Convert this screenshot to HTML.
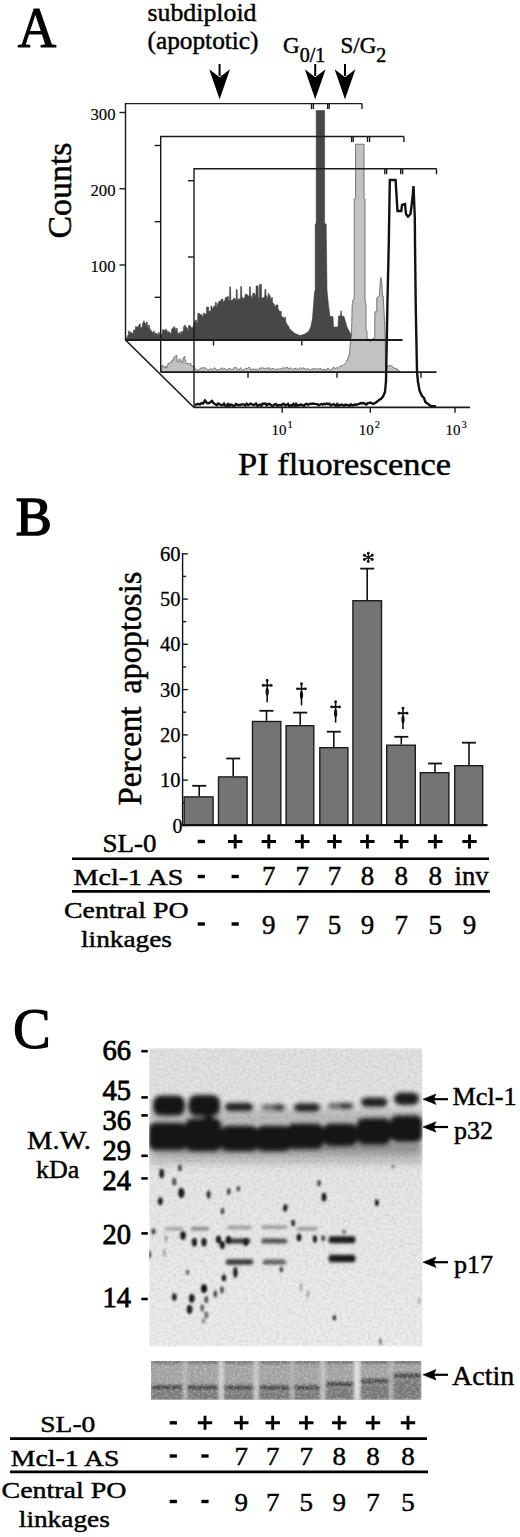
<!DOCTYPE html>
<html><head><meta charset="utf-8"><style>
html,body{margin:0;padding:0;background:#fff;}
svg{display:block;}
text{font-family:"Liberation Serif",serif;fill:#000;stroke:#000;}
</style></head><body>
<svg width="520" height="1537" viewBox="0 0 520 1537" stroke-width="0.45">
<rect width="520" height="1537" fill="#fff"/>
<text x="17.8" y="46.5" font-size="57" font-weight="normal" text-anchor="start" stroke-width="1.1" textLength="38.5" lengthAdjust="spacingAndGlyphs" >A</text>
<text x="147.5" y="21" font-size="25.5" font-weight="normal" text-anchor="start" stroke-width="0.45" textLength="109" lengthAdjust="spacingAndGlyphs" >subdiploid</text>
<text x="147.5" y="49" font-size="25.5" font-weight="normal" text-anchor="start" stroke-width="0.45" textLength="111" lengthAdjust="spacingAndGlyphs" >(apoptotic)</text>
<text x="283" y="53" font-size="23">G<tspan font-size="20" dy="9.3">0/1</tspan></text>
<text x="340.5" y="53" font-size="23">S/G<tspan font-size="20" dy="9.3">2</tspan></text>
<line x1="219.6" y1="64" x2="219.6" y2="76" stroke="#000" stroke-width="2"/>
<path d="M219.6 99.2 L209.2 69.2 L219.6 77.3 L230.0 69.2 Z" fill="#000"/>
<line x1="315.2" y1="64" x2="315.2" y2="76" stroke="#000" stroke-width="2"/>
<path d="M315.2 99.2 L304.8 69.2 L315.2 77.3 L325.59999999999997 69.2 Z" fill="#000"/>
<line x1="345" y1="64" x2="345" y2="76" stroke="#000" stroke-width="2"/>
<path d="M345 99.2 L334.6 69.2 L345 77.3 L355.4 69.2 Z" fill="#000"/>
<polygon fill="#474747" stroke="#333" stroke-width="0.5" points="126.0,340.0 126.5,337.4 127.3,337.4 127.5,335.6 128.3,335.6 128.5,330.9 129.3,330.9 129.5,333.2 130.3,333.2 130.5,332.0 131.3,332.0 131.5,332.9 132.3,332.9 132.5,333.6 133.3,333.6 133.5,329.9 134.3,329.9 134.5,330.1 135.3,330.1 135.5,326.5 136.3,326.5 136.5,327.2 137.3,327.2 137.5,326.7 138.3,326.7 138.5,325.4 139.3,325.4 139.5,323.9 140.3,323.9 140.5,328.2 141.3,328.2 141.5,327.2 142.3,327.2 142.5,323.3 143.3,323.3 143.5,320.9 144.3,320.9 144.5,323.1 145.3,323.1 145.5,324.4 146.3,324.4 146.5,321.9 147.3,321.9 147.5,327.5 148.3,327.5 148.5,325.0 149.3,325.0 149.5,328.9 150.3,328.9 150.5,330.4 151.3,330.4 151.5,331.8 152.3,331.8 152.5,332.7 153.3,332.7 153.5,331.1 154.3,331.1 154.5,334.3 155.3,334.3 155.5,332.9 156.3,332.9 156.5,333.7 157.3,333.7 157.5,334.9 158.3,334.9 158.5,332.5 159.3,332.5 159.5,334.6 160.3,334.6 160.5,335.3 161.3,335.3 161.5,334.0 162.3,334.0 162.5,329.7 163.3,329.7 163.5,330.1 164.3,330.1 164.5,330.6 165.3,330.6 165.5,329.3 166.3,329.3 166.5,330.7 167.3,330.7 167.5,333.0 168.3,333.0 168.5,331.6 169.3,331.6 169.5,332.8 170.3,332.8 170.5,334.0 171.3,334.0 171.5,329.3 172.3,329.3 172.5,328.2 173.3,328.2 173.5,326.7 174.3,326.7 174.5,327.7 175.3,327.7 175.5,330.6 176.3,330.6 176.5,328.2 177.3,328.2 177.5,333.7 178.3,333.7 178.5,333.3 179.3,333.3 179.5,332.0 180.3,332.0 180.5,334.6 181.3,334.6 181.5,331.6 182.3,331.6 182.5,331.6 183.3,331.6 183.5,326.8 184.3,326.8 184.5,325.2 185.3,325.2 185.5,326.9 186.3,326.9 186.5,328.0 187.3,328.0 187.5,330.6 188.3,330.6 188.5,325.7 189.3,325.7 189.5,325.5 190.3,325.5 190.5,327.1 191.3,327.1 191.5,328.6 192.3,328.6 192.5,327.1 193.3,327.1 193.5,324.3 194.3,324.3 194.5,321.8 195.4,321.8 195.6,319.9 196.5,319.9 196.7,322.7 197.6,322.7 197.8,313.4 198.7,313.4 198.9,313.4 199.8,313.4 200.0,314.8 200.9,314.8 201.1,314.7 202.0,314.7 202.2,316.8 203.1,316.8 203.3,313.4 204.2,313.4 204.4,313.4 205.3,313.4 205.5,314.9 206.4,314.9 206.6,307.0 207.5,307.0 207.7,307.0 208.6,307.0 208.8,311.6 209.7,311.6 209.9,311.0 210.8,311.0 211.0,306.0 211.9,306.0 212.1,309.0 213.0,309.0 213.2,307.0 214.1,307.0 214.3,305.9 215.2,305.9 215.4,302.2 216.3,302.2 216.5,306.4 217.4,306.4 217.6,303.5 218.5,303.5 218.7,301.3 219.6,301.3 219.8,301.3 220.7,301.3 220.9,299.6 221.8,299.6 222.0,298.9 222.9,298.9 223.1,301.9 224.0,301.9 224.2,300.6 225.1,300.6 225.3,297.5 226.2,297.5 226.4,297.2 227.3,297.2 227.5,296.5 228.4,296.5 228.6,301.1 229.5,301.1 229.7,286.9 230.6,286.9 230.8,300.3 231.7,300.3 231.9,300.3 232.8,300.3 233.0,298.8 233.9,298.8 234.1,298.2 235.0,298.2 235.2,300.1 236.1,300.1 236.3,289.5 237.2,289.5 237.4,299.2 238.3,299.2 238.5,299.5 239.4,299.5 239.6,298.3 240.5,298.3 240.7,286.5 241.6,286.5 241.8,297.4 242.7,297.4 242.9,298.4 243.8,298.4 244.0,297.7 244.9,297.7 245.1,294.3 246.0,294.3 246.2,294.3 247.1,294.3 247.3,295.6 248.2,295.6 248.4,296.2 249.3,296.2 249.5,286.9 250.4,286.9 250.6,295.8 251.5,295.8 251.7,298.0 252.6,298.0 252.8,293.3 253.7,293.3 253.9,293.3 254.8,293.3 255.0,295.8 255.9,295.8 256.1,285.9 257.0,285.9 257.2,285.9 258.1,285.9 258.3,297.7 259.2,297.7 259.4,284.4 260.3,284.4 260.5,284.4 261.4,284.4 261.6,297.9 262.5,297.9 262.7,298.0 263.6,298.0 263.8,296.9 264.7,296.9 264.9,289.5 265.8,289.5 266.0,295.7 266.9,295.7 267.1,298.2 268.0,298.2 268.2,293.6 269.1,293.6 269.3,295.6 270.2,295.6 270.4,299.6 271.3,299.6 271.5,297.5 272.4,297.5 272.6,303.1 273.5,303.1 273.7,304.5 274.6,304.5 274.8,307.1 275.7,307.1 275.9,304.9 276.8,304.9 277.0,304.9 277.9,304.9 278.1,309.7 279.0,309.7 279.2,311.3 280.1,311.3 280.3,311.3 281.2,311.3 281.4,316.8 282.3,316.8 282.5,316.9 283.4,316.9 283.6,319.0 284.5,319.0 284.7,317.2 285.6,317.2 285.8,322.7 286.7,322.7 286.9,325.0 287.8,325.0 290.0,329.2 295.0,333.5 300.0,335.5 305.0,334.0 309.0,331.0 311.0,326.0 312.5,318.0 313.5,305.0 314.5,292.0 315.2,290.0 315.2,224.0 316.2,223.5 316.2,110.6 324.6,110.6 324.6,223.5 326.2,224.0 327.0,290.0 328.5,305.0 330.0,316.5 333.0,316.5 333.5,327.0 338.0,327.0 338.5,316.0 340.5,316.0 341.0,310.5 342.0,316.5 344.0,316.5 347.0,327.0 350.0,332.7 353.0,336.7 356.0,338.0 360.0,339.0 366.0,339.5 372.0,340.0 372.0,340.0"/>
<polygon fill="#c2c2c2" stroke="#6a6a6a" stroke-width="0.9" points="161.5,372.0 162.0,365.3 162.8,365.3 163.0,366.2 163.8,366.2 164.0,367.9 164.8,367.9 165.0,366.7 165.8,366.7 166.0,368.1 166.8,368.1 167.0,365.7 167.8,365.7 168.0,363.3 168.8,363.3 169.0,363.0 169.8,363.0 170.0,362.6 170.8,362.6 171.0,362.3 171.8,362.3 172.0,360.0 172.8,360.0 173.0,360.0 173.8,360.0 174.0,357.0 174.8,357.0 175.0,356.4 175.8,356.4 176.0,355.5 176.8,355.5 177.0,361.7 177.8,361.7 178.0,361.7 178.8,361.7 179.0,359.2 179.8,359.2 180.0,360.0 180.8,360.0 181.0,361.7 181.8,361.7 182.0,362.9 182.8,362.9 183.0,358.4 183.8,358.4 184.0,356.5 184.8,356.5 185.0,360.6 185.8,360.6 186.0,364.0 186.8,364.0 187.0,363.5 187.8,363.5 188.0,363.6 188.8,363.6 189.0,363.9 189.8,363.9 190.0,363.4 190.8,363.4 191.0,365.7 191.8,365.7 192.0,366.3 192.8,366.3 193.0,365.8 193.8,365.8 195.0,368.5 196.3,370.0 197.6,370.2 198.9,370.1 200.2,368.3 201.5,367.9 202.8,367.9 204.1,367.8 205.4,367.8 206.7,369.1 208.0,369.9 209.3,369.7 210.6,368.6 211.9,369.2 213.2,369.6 214.5,367.5 215.8,369.2 217.1,369.9 218.4,369.5 219.7,369.5 221.0,368.6 222.3,367.7 223.6,369.6 224.9,368.2 226.2,369.6 227.5,370.1 228.8,368.4 230.1,368.4 231.4,370.0 232.7,369.4 234.0,367.7 235.3,367.6 236.6,367.7 237.9,369.9 239.2,369.6 240.5,367.6 241.8,369.7 243.1,370.1 244.4,369.2 245.7,368.3 247.0,368.8 248.3,367.6 249.6,367.2 250.9,370.1 252.2,369.1 253.5,368.8 254.8,370.0 256.1,368.5 257.4,369.8 258.7,369.7 260.0,367.8 261.3,368.0 262.6,368.1 263.9,367.9 265.2,369.0 266.5,368.0 267.8,368.5 269.1,367.6 270.4,369.9 271.7,368.3 273.0,368.6 274.3,369.0 275.6,369.9 276.9,368.5 278.2,370.0 279.5,368.7 280.8,368.8 282.1,368.8 283.4,367.3 284.7,368.5 286.0,367.7 287.3,367.2 288.6,369.6 289.9,367.7 291.2,368.6 292.5,369.4 293.8,368.9 295.1,368.2 296.4,368.8 297.7,368.9 299.0,369.6 300.3,367.5 301.6,368.9 302.9,367.9 304.2,368.0 305.5,369.5 306.8,368.7 308.1,368.9 309.4,369.5 310.7,369.9 312.0,368.5 313.3,369.0 314.6,368.7 315.9,368.7 317.2,369.3 318.5,368.6 319.8,368.8 321.1,368.6 322.4,370.0 323.7,369.3 325.0,369.8 326.3,370.0 327.6,368.0 328.9,368.9 330.2,370.0 331.5,369.7 332.8,367.6 334.1,367.6 335.4,368.5 336.7,367.4 338.0,368.5 340.0,366.3 343.0,365.5 346.2,362.3 348.0,358.0 349.5,354.2 350.2,345.0 351.5,335.0 352.2,304.4 352.8,304.4 352.8,300.0 354.2,299.0 354.2,199.0 355.6,198.0 355.6,144.2 364.0,144.2 364.0,198.0 365.0,199.0 365.0,300.0 366.0,304.8 366.0,330.0 367.0,331.0 367.0,338.0 369.0,339.5 370.4,342.0 372.0,339.0 374.8,338.0 374.8,311.8 376.8,311.8 376.8,297.7 379.5,296.0 380.2,282.0 380.9,277.5 381.8,282.0 382.5,296.0 383.2,296.0 384.5,320.6 385.2,340.0 385.5,365.0 388.0,366.0 391.0,365.5 394.0,368.0 398.0,369.5 400.0,372.0 400.0,372.0"/>
<polyline fill="none" stroke="#111" stroke-width="2.4" stroke-linejoin="miter" points="195.0,405.5 196.5,404.1 198.0,404.0 200.0,404.5 201.5,403.0 203.0,403.5 205.0,400.5 207.0,403.0 208.5,403.2 210.0,402.5 212.0,401.0 213.5,403.2 215.0,404.0 216.7,405.1 218.3,403.5 220.0,404.5 221.3,405.1 222.7,405.0 224.0,403.7 225.3,405.6 226.7,405.8 228.0,404.0 229.3,405.8 230.7,404.5 232.0,404.8 233.3,406.0 234.7,405.7 236.0,404.1 237.3,404.8 238.7,405.0 240.0,405.0 241.3,404.6 242.7,404.2 244.0,404.5 245.3,405.4 246.7,403.7 248.0,404.9 249.3,404.6 250.7,403.6 252.0,404.3 253.3,405.0 254.7,404.7 256.0,403.6 257.3,405.7 258.7,405.2 260.0,404.5 261.3,405.7 262.7,403.6 264.0,404.0 265.3,403.5 266.7,405.3 268.0,404.1 269.3,403.8 270.7,404.6 272.0,405.8 273.3,405.6 274.7,404.3 276.0,404.1 277.3,405.9 278.7,405.1 280.0,405.0 281.3,405.5 282.7,404.0 284.0,403.9 285.3,405.5 286.7,404.8 288.0,404.0 289.3,406.1 290.7,405.3 292.0,405.7 293.3,404.0 294.7,405.9 296.0,404.0 297.3,405.9 298.7,404.9 300.0,405.0 301.3,404.6 302.7,405.1 304.0,405.9 305.3,404.3 306.7,403.9 308.0,404.9 309.3,404.1 310.7,403.8 312.0,403.9 313.3,403.6 314.7,403.9 316.0,404.1 317.3,404.1 318.7,405.2 320.0,404.5 321.3,404.0 322.7,404.6 324.0,403.8 325.3,404.3 326.7,403.5 328.0,404.1 329.3,403.6 330.7,405.3 332.0,404.9 333.3,404.1 334.7,404.8 336.0,405.9 337.3,404.0 338.7,405.7 340.0,405.0 341.4,404.8 342.7,404.9 344.1,405.7 345.5,404.6 346.8,404.8 348.2,405.2 349.5,405.8 350.9,404.3 352.3,405.4 353.6,405.0 355.0,404.5 356.4,404.8 357.9,404.1 359.3,403.9 360.7,403.1 362.1,403.3 363.6,403.0 365.0,404.0 366.4,404.5 367.8,403.2 369.2,402.9 370.6,402.6 372.0,403.5 373.5,403.7 375.0,403.1 376.5,402.0 378.0,401.0 379.5,399.5 381.0,399.0 383.0,396.5 385.0,392.0 386.0,381.0 387.5,300.0 388.8,242.7 389.8,180.0 395.6,180.0 396.5,195.0 397.5,211.0 401.3,211.0 402.0,205.0 405.0,204.0 406.0,214.0 408.0,216.7 410.5,214.0 411.5,206.0 412.5,198.0 413.5,186.0 414.3,205.0 414.8,217.7 415.0,242.7 415.8,310.0 417.0,371.5 418.0,382.0 419.6,390.8 422.0,396.0 424.0,398.0 425.4,402.0 428.0,404.0 431.0,406.0 436.0,406.5"/>
<path d="M125.5 340 L125.5 103.6 L362 103.6" stroke="#1a1a1a" stroke-width="1.4" fill="none"/>
<line x1="311.5" y1="103.6" x2="311.5" y2="109.1" stroke="#1a1a1a" stroke-width="1.4" fill="none"/>
<line x1="313.4" y1="103.6" x2="313.4" y2="109.1" stroke="#1a1a1a" stroke-width="1.4" fill="none"/>
<line x1="327.7" y1="103.6" x2="327.7" y2="109.1" stroke="#1a1a1a" stroke-width="1.4" fill="none"/>
<line x1="329.2" y1="103.6" x2="329.2" y2="109.1" stroke="#1a1a1a" stroke-width="1.4" fill="none"/>
<line x1="362" y1="103.6" x2="362" y2="109.1" stroke="#1a1a1a" stroke-width="1.4" fill="none"/>
<line x1="125.5" y1="340" x2="402.5" y2="340" stroke="#1a1a1a" stroke-width="1.8"/>
<line x1="119.5" y1="112.5" x2="125.5" y2="112.5" stroke="#1a1a1a" stroke-width="1.4" fill="none"/>
<line x1="119.5" y1="188.75" x2="125.5" y2="188.75" stroke="#1a1a1a" stroke-width="1.4" fill="none"/>
<line x1="119.5" y1="265" x2="125.5" y2="265" stroke="#1a1a1a" stroke-width="1.4" fill="none"/>
<line x1="213.5" y1="340" x2="213.5" y2="345.5" stroke="#1a1a1a" stroke-width="1.4" fill="none"/>
<line x1="301.8" y1="340" x2="301.8" y2="345.5" stroke="#1a1a1a" stroke-width="1.4" fill="none"/>
<path d="M160.7 372.2 L160.7 136.5 L403.9 136.5" stroke="#1a1a1a" stroke-width="1.4" fill="none"/>
<line x1="351.6" y1="136.5" x2="351.6" y2="142.0" stroke="#1a1a1a" stroke-width="1.4" fill="none"/>
<line x1="353.2" y1="136.5" x2="353.2" y2="142.0" stroke="#1a1a1a" stroke-width="1.4" fill="none"/>
<line x1="367.5" y1="136.5" x2="367.5" y2="142.0" stroke="#1a1a1a" stroke-width="1.4" fill="none"/>
<line x1="369.6" y1="136.5" x2="369.6" y2="142.0" stroke="#1a1a1a" stroke-width="1.4" fill="none"/>
<line x1="403.9" y1="136.5" x2="403.9" y2="142.0" stroke="#1a1a1a" stroke-width="1.4" fill="none"/>
<line x1="160.7" y1="372.2" x2="436.5" y2="372.2" stroke="#1a1a1a" stroke-width="1.8"/>
<line x1="154.7" y1="145.5" x2="160.7" y2="145.5" stroke="#1a1a1a" stroke-width="1.4" fill="none"/>
<line x1="154.7" y1="221.7" x2="160.7" y2="221.7" stroke="#1a1a1a" stroke-width="1.4" fill="none"/>
<line x1="154.7" y1="297.3" x2="160.7" y2="297.3" stroke="#1a1a1a" stroke-width="1.4" fill="none"/>
<line x1="248" y1="372.2" x2="248" y2="377.7" stroke="#1a1a1a" stroke-width="1.4" fill="none"/>
<line x1="337" y1="372.2" x2="337" y2="377.7" stroke="#1a1a1a" stroke-width="1.4" fill="none"/>
<line x1="421" y1="372.2" x2="421" y2="377.7" stroke="#1a1a1a" stroke-width="1.4" fill="none"/>
<path d="M194 407.3 L194 168.7 L436.5 168.7" stroke="#1a1a1a" stroke-width="1.4" fill="none"/>
<line x1="384.8" y1="168.7" x2="384.8" y2="174.2" stroke="#1a1a1a" stroke-width="1.4" fill="none"/>
<line x1="386.6" y1="168.7" x2="386.6" y2="174.2" stroke="#1a1a1a" stroke-width="1.4" fill="none"/>
<line x1="400.7" y1="168.7" x2="400.7" y2="174.2" stroke="#1a1a1a" stroke-width="1.4" fill="none"/>
<line x1="402.6" y1="168.7" x2="402.6" y2="174.2" stroke="#1a1a1a" stroke-width="1.4" fill="none"/>
<line x1="436.5" y1="168.7" x2="436.5" y2="174.2" stroke="#1a1a1a" stroke-width="1.4" fill="none"/>
<line x1="194" y1="407.3" x2="470" y2="407.3" stroke="#1a1a1a" stroke-width="1.8"/>
<line x1="188" y1="180.7" x2="194" y2="180.7" stroke="#1a1a1a" stroke-width="1.4" fill="none"/>
<line x1="188" y1="257" x2="194" y2="257" stroke="#1a1a1a" stroke-width="1.4" fill="none"/>
<line x1="282.2" y1="407.3" x2="282.2" y2="412.8" stroke="#1a1a1a" stroke-width="1.4" fill="none"/>
<line x1="370.3" y1="407.3" x2="370.3" y2="412.8" stroke="#1a1a1a" stroke-width="1.4" fill="none"/>
<line x1="455" y1="407.3" x2="455" y2="412.8" stroke="#1a1a1a" stroke-width="1.4" fill="none"/>
<line x1="125.5" y1="340" x2="194" y2="407.5" stroke="#1a1a1a" stroke-width="1.6"/>
<text x="115.5" y="119.5" font-size="16.5" font-weight="normal" text-anchor="end" stroke-width="0.15" textLength="25" lengthAdjust="spacingAndGlyphs" >300</text>
<text x="115.5" y="195.5" font-size="16.5" font-weight="normal" text-anchor="end" stroke-width="0.15" textLength="25" lengthAdjust="spacingAndGlyphs" >200</text>
<text x="115.5" y="271.7" font-size="16.5" font-weight="normal" text-anchor="end" stroke-width="0.15" textLength="25" lengthAdjust="spacingAndGlyphs" >100</text>
<text x="271.5" y="434.7" font-size="15" stroke-width="0.15">10<tspan font-size="10.5" dy="-6.5" dx="1">1</tspan></text>
<text x="358.8" y="434.7" font-size="15" stroke-width="0.15">10<tspan font-size="10.5" dy="-6.5" dx="1">2</tspan></text>
<text x="445.5" y="434.7" font-size="15" stroke-width="0.15">10<tspan font-size="10.5" dy="-6.5" dx="1">3</tspan></text>
<text x="238" y="475.4" font-size="32" font-weight="normal" text-anchor="start" stroke-width="0.45" textLength="213" lengthAdjust="spacingAndGlyphs" >PI fluorescence</text>
<text transform="translate(71,238.5) rotate(-90)" font-size="33.5" textLength="96" lengthAdjust="spacingAndGlyphs">Counts</text>
<text x="15.8" y="535" font-size="54" font-weight="normal" text-anchor="start" stroke-width="1.6" >B</text>
<line x1="183" y1="825.4" x2="187.8" y2="825.4" stroke="#1a1a1a" stroke-width="1.4"/>
<line x1="183" y1="802.8" x2="186.2" y2="802.8" stroke="#1a1a1a" stroke-width="1.4"/>
<line x1="183" y1="780.1" x2="187.8" y2="780.1" stroke="#1a1a1a" stroke-width="1.4"/>
<line x1="183" y1="757.5" x2="186.2" y2="757.5" stroke="#1a1a1a" stroke-width="1.4"/>
<line x1="183" y1="734.9" x2="187.8" y2="734.9" stroke="#1a1a1a" stroke-width="1.4"/>
<line x1="183" y1="712.2" x2="186.2" y2="712.2" stroke="#1a1a1a" stroke-width="1.4"/>
<line x1="183" y1="689.6" x2="187.8" y2="689.6" stroke="#1a1a1a" stroke-width="1.4"/>
<line x1="183" y1="667.0" x2="186.2" y2="667.0" stroke="#1a1a1a" stroke-width="1.4"/>
<line x1="183" y1="644.3" x2="187.8" y2="644.3" stroke="#1a1a1a" stroke-width="1.4"/>
<line x1="183" y1="621.7" x2="186.2" y2="621.7" stroke="#1a1a1a" stroke-width="1.4"/>
<line x1="183" y1="599.1" x2="187.8" y2="599.1" stroke="#1a1a1a" stroke-width="1.4"/>
<line x1="183" y1="576.4" x2="186.2" y2="576.4" stroke="#1a1a1a" stroke-width="1.4"/>
<line x1="183" y1="553.8" x2="187.8" y2="553.8" stroke="#1a1a1a" stroke-width="1.4"/>
<text x="180.6" y="787.0333333333333" font-size="20.5" font-weight="normal" text-anchor="end" stroke-width="0.3" >10</text>
<text x="180.6" y="741.7666666666667" font-size="20.5" font-weight="normal" text-anchor="end" stroke-width="0.3" >20</text>
<text x="180.6" y="696.4999999999999" font-size="20.5" font-weight="normal" text-anchor="end" stroke-width="0.3" >30</text>
<text x="180.6" y="651.2333333333332" font-size="20.5" font-weight="normal" text-anchor="end" stroke-width="0.3" >40</text>
<text x="180.6" y="605.9666666666666" font-size="20.5" font-weight="normal" text-anchor="end" stroke-width="0.3" >50</text>
<text x="180.6" y="560.6999999999999" font-size="20.5" font-weight="normal" text-anchor="end" stroke-width="0.3" >60</text>
<text x="182.6" y="833.3" font-size="20" font-weight="normal" text-anchor="end" stroke-width="0.3" >0</text>
<line x1="199.2" y1="796.2" x2="199.2" y2="785.8" stroke="#111" stroke-width="1.6"/>
<line x1="192.2" y1="785.8" x2="206.2" y2="785.8" stroke="#111" stroke-width="1.8"/>
<rect x="184.2" y="796.9000000000001" width="28.900000000000013" height="28.099999999999955" fill="#747474" stroke="#1c1c1c" stroke-width="1.4"/>
<line x1="233.2" y1="776.2" x2="233.2" y2="758.5" stroke="#111" stroke-width="1.6"/>
<line x1="226.2" y1="758.5" x2="240.2" y2="758.5" stroke="#111" stroke-width="1.8"/>
<rect x="218.5" y="776.9000000000001" width="28.6" height="48.09999999999995" fill="#747474" stroke="#1c1c1c" stroke-width="1.4"/>
<line x1="266.5" y1="720.8" x2="266.5" y2="710.8" stroke="#111" stroke-width="1.6"/>
<line x1="259.5" y1="710.8" x2="273.5" y2="710.8" stroke="#111" stroke-width="1.8"/>
<rect x="252.5" y="721.5" width="28.29999999999999" height="103.50000000000004" fill="#747474" stroke="#1c1c1c" stroke-width="1.4"/>
<line x1="300.2" y1="725" x2="300.2" y2="712.6" stroke="#111" stroke-width="1.6"/>
<line x1="293.2" y1="712.6" x2="307.2" y2="712.6" stroke="#111" stroke-width="1.8"/>
<rect x="286.09999999999997" y="725.7" width="27.700000000000024" height="99.3" fill="#747474" stroke="#1c1c1c" stroke-width="1.4"/>
<line x1="333.8" y1="747" x2="333.8" y2="731.7" stroke="#111" stroke-width="1.6"/>
<line x1="326.8" y1="731.7" x2="340.8" y2="731.7" stroke="#111" stroke-width="1.8"/>
<rect x="319.8" y="747.7" width="28.1" height="77.3" fill="#747474" stroke="#1c1c1c" stroke-width="1.4"/>
<line x1="367.2" y1="600" x2="367.2" y2="568.6" stroke="#111" stroke-width="1.6"/>
<line x1="360.2" y1="568.6" x2="374.2" y2="568.6" stroke="#111" stroke-width="1.8"/>
<rect x="352.9" y="600.7" width="28.6" height="224.3" fill="#747474" stroke="#1c1c1c" stroke-width="1.4"/>
<line x1="401.3" y1="744.5" x2="401.3" y2="736.8" stroke="#111" stroke-width="1.6"/>
<line x1="394.3" y1="736.8" x2="408.3" y2="736.8" stroke="#111" stroke-width="1.8"/>
<rect x="386.7" y="745.2" width="28.6" height="79.8" fill="#747474" stroke="#1c1c1c" stroke-width="1.4"/>
<line x1="435" y1="772" x2="435" y2="763.5" stroke="#111" stroke-width="1.6"/>
<line x1="428" y1="763.5" x2="442" y2="763.5" stroke="#111" stroke-width="1.8"/>
<rect x="420.3" y="772.7" width="28.6" height="52.3" fill="#747474" stroke="#1c1c1c" stroke-width="1.4"/>
<line x1="469" y1="765" x2="469" y2="742.7" stroke="#111" stroke-width="1.6"/>
<line x1="462" y1="742.7" x2="476" y2="742.7" stroke="#111" stroke-width="1.8"/>
<rect x="454.7" y="765.7" width="27.99999999999998" height="59.3" fill="#747474" stroke="#1c1c1c" stroke-width="1.4"/>
<line x1="182.6" y1="553" x2="182.6" y2="826" stroke="#111" stroke-width="1.4"/>
<line x1="182" y1="825.2" x2="487.5" y2="825.2" stroke="#111" stroke-width="2.2"/>
<path d="M267.2 679.2 L267.2 702.3" stroke="#111" stroke-width="1.6"/>
<path d="M263.2 685.4000000000001 L271.2 685.4000000000001" stroke="#111" stroke-width="1.9"/>
<circle cx="267.2" cy="680.4000000000001" r="1.4" fill="#111"/>
<circle cx="263.2" cy="685.4000000000001" r="1.4" fill="#111"/>
<circle cx="271.2" cy="685.4000000000001" r="1.4" fill="#111"/>
<ellipse cx="267.2" cy="691.7" rx="1.6" ry="4" fill="#111"/>
<path d="M301.5 682.6 L301.5 705.4" stroke="#111" stroke-width="1.6"/>
<path d="M297.5 688.8000000000001 L305.5 688.8000000000001" stroke="#111" stroke-width="1.9"/>
<circle cx="301.5" cy="683.8000000000001" r="1.4" fill="#111"/>
<circle cx="297.5" cy="688.8000000000001" r="1.4" fill="#111"/>
<circle cx="305.5" cy="688.8000000000001" r="1.4" fill="#111"/>
<ellipse cx="301.5" cy="695.1" rx="1.6" ry="4" fill="#111"/>
<path d="M335.6 700.7 L335.6 722.6" stroke="#111" stroke-width="1.6"/>
<path d="M331.6 706.9000000000001 L339.6 706.9000000000001" stroke="#111" stroke-width="1.9"/>
<circle cx="335.6" cy="701.9000000000001" r="1.4" fill="#111"/>
<circle cx="331.6" cy="706.9000000000001" r="1.4" fill="#111"/>
<circle cx="339.6" cy="706.9000000000001" r="1.4" fill="#111"/>
<ellipse cx="335.6" cy="713.2" rx="1.6" ry="4" fill="#111"/>
<path d="M403 707 L403 729" stroke="#111" stroke-width="1.6"/>
<path d="M399 713.2 L407 713.2" stroke="#111" stroke-width="1.9"/>
<circle cx="403" cy="708.2" r="1.4" fill="#111"/>
<circle cx="399" cy="713.2" r="1.4" fill="#111"/>
<circle cx="407" cy="713.2" r="1.4" fill="#111"/>
<ellipse cx="403" cy="719.5" rx="1.6" ry="4" fill="#111"/>
<line x1="368.3" y1="557.4" x2="368.30" y2="553.16" stroke="#111" stroke-width="1.3"/>
<circle cx="368.30" cy="553.16" r="1.45" fill="#111"/>
<line x1="368.3" y1="557.4" x2="368.30" y2="561.56" stroke="#111" stroke-width="1.3"/>
<circle cx="368.30" cy="561.56" r="1.45" fill="#111"/>
<line x1="368.3" y1="557.4" x2="364.38" y2="555.32" stroke="#111" stroke-width="1.3"/>
<circle cx="364.38" cy="555.32" r="1.45" fill="#111"/>
<line x1="368.3" y1="557.4" x2="372.22" y2="555.32" stroke="#111" stroke-width="1.3"/>
<circle cx="372.22" cy="555.32" r="1.45" fill="#111"/>
<line x1="368.3" y1="557.4" x2="364.38" y2="559.48" stroke="#111" stroke-width="1.3"/>
<circle cx="364.38" cy="559.48" r="1.45" fill="#111"/>
<line x1="368.3" y1="557.4" x2="372.22" y2="559.48" stroke="#111" stroke-width="1.3"/>
<circle cx="372.22" cy="559.48" r="1.45" fill="#111"/>
<text transform="translate(140.5,805.5) rotate(-90)" font-size="33">Percent</text>
<text transform="translate(140.5,693.8) rotate(-90)" font-size="33" textLength="122" lengthAdjust="spacingAndGlyphs">apoptosis</text>
<text x="102.5" y="851.8" font-size="24.5" font-weight="normal" text-anchor="start" stroke-width="0.45" textLength="54" lengthAdjust="spacingAndGlyphs" >SL-0</text>
<line x1="72" y1="858.7" x2="489" y2="858.7" stroke="#000" stroke-width="2.6"/>
<text x="73.5" y="885.4" font-size="24" font-weight="normal" text-anchor="start" stroke-width="0.45" textLength="110" lengthAdjust="spacingAndGlyphs" >Mcl-1 AS</text>
<line x1="72" y1="891.4" x2="490" y2="891.4" stroke="#000" stroke-width="2.6"/>
<text x="64" y="918.3" font-size="24" font-weight="normal" text-anchor="start" stroke-width="0.45" textLength="124.5" lengthAdjust="spacingAndGlyphs" >Central PO</text>
<text x="81" y="946.5" font-size="24" font-weight="normal" text-anchor="start" stroke-width="0.45" textLength="91" lengthAdjust="spacingAndGlyphs" >linkages</text>
<rect x="197.70000000000002" y="839.8" width="7.2" height="3.4" fill="#000"/>
<rect x="197.70000000000002" y="874.8" width="7.2" height="3.4" fill="#000"/>
<rect x="197.70000000000002" y="922.3" width="7.2" height="3.4" fill="#000"/>
<path d="M228.0 841.5 H242.39999999999998 M235.2 834.5 V848.5" stroke="#000" stroke-width="2.9"/>
<rect x="231.6" y="874.8" width="7.2" height="3.4" fill="#000"/>
<rect x="231.6" y="922.3" width="7.2" height="3.4" fill="#000"/>
<path d="M261.6 841.5 H276.0 M268.8 834.5 V848.5" stroke="#000" stroke-width="2.9"/>
<text x="268.8" y="885.4" font-size="27" font-weight="normal" text-anchor="middle" stroke-width="0.45" textLength="13.5" lengthAdjust="spacingAndGlyphs" >7</text>
<text x="268.8" y="934.4" font-size="27" font-weight="normal" text-anchor="middle" stroke-width="0.45" textLength="13.5" lengthAdjust="spacingAndGlyphs" >9</text>
<path d="M295.1 841.5 H309.5 M302.3 834.5 V848.5" stroke="#000" stroke-width="2.9"/>
<text x="302.3" y="885.4" font-size="27" font-weight="normal" text-anchor="middle" stroke-width="0.45" textLength="13.5" lengthAdjust="spacingAndGlyphs" >7</text>
<text x="302.3" y="934.4" font-size="27" font-weight="normal" text-anchor="middle" stroke-width="0.45" textLength="13.5" lengthAdjust="spacingAndGlyphs" >7</text>
<path d="M327.3 841.5 H341.7 M334.5 834.5 V848.5" stroke="#000" stroke-width="2.9"/>
<text x="334.5" y="885.4" font-size="27" font-weight="normal" text-anchor="middle" stroke-width="0.45" textLength="13.5" lengthAdjust="spacingAndGlyphs" >7</text>
<text x="334.5" y="934.4" font-size="27" font-weight="normal" text-anchor="middle" stroke-width="0.45" textLength="13.5" lengthAdjust="spacingAndGlyphs" >5</text>
<path d="M360.2 841.5 H374.59999999999997 M367.4 834.5 V848.5" stroke="#000" stroke-width="2.9"/>
<text x="367.4" y="885.4" font-size="27" font-weight="normal" text-anchor="middle" stroke-width="0.45" textLength="13.5" lengthAdjust="spacingAndGlyphs" >8</text>
<text x="367.4" y="934.4" font-size="27" font-weight="normal" text-anchor="middle" stroke-width="0.45" textLength="13.5" lengthAdjust="spacingAndGlyphs" >9</text>
<path d="M394.1 841.5 H408.5 M401.3 834.5 V848.5" stroke="#000" stroke-width="2.9"/>
<text x="401.3" y="885.4" font-size="27" font-weight="normal" text-anchor="middle" stroke-width="0.45" textLength="13.5" lengthAdjust="spacingAndGlyphs" >8</text>
<text x="401.3" y="934.4" font-size="27" font-weight="normal" text-anchor="middle" stroke-width="0.45" textLength="13.5" lengthAdjust="spacingAndGlyphs" >7</text>
<path d="M428.1 841.5 H442.5 M435.3 834.5 V848.5" stroke="#000" stroke-width="2.9"/>
<text x="435.3" y="885.4" font-size="27" font-weight="normal" text-anchor="middle" stroke-width="0.45" textLength="13.5" lengthAdjust="spacingAndGlyphs" >8</text>
<text x="435.3" y="934.4" font-size="27" font-weight="normal" text-anchor="middle" stroke-width="0.45" textLength="13.5" lengthAdjust="spacingAndGlyphs" >5</text>
<path d="M462.3 841.5 H476.7 M469.5 834.5 V848.5" stroke="#000" stroke-width="2.9"/>
<text x="471.5" y="885.4" font-size="27" font-weight="normal" text-anchor="middle" stroke-width="0.45" textLength="34" lengthAdjust="spacingAndGlyphs" >inv</text>
<text x="469.5" y="934.4" font-size="27" font-weight="normal" text-anchor="middle" stroke-width="0.45" textLength="13.5" lengthAdjust="spacingAndGlyphs" >9</text>
<text x="13" y="1047.6" font-size="56.5" font-weight="normal" text-anchor="start" stroke-width="1.1" >C</text>
<text x="131" y="1060" font-size="28.5" font-weight="normal" text-anchor="end" stroke-width="0.8" >66</text>
<line x1="141.3" y1="1051.2" x2="147.8" y2="1051.2" stroke="#000" stroke-width="2.6"/>
<text x="131" y="1100.4" font-size="28.5" font-weight="normal" text-anchor="end" stroke-width="0.8" >45</text>
<line x1="141.3" y1="1097.4" x2="147.8" y2="1097.4" stroke="#000" stroke-width="2.6"/>
<text x="131" y="1129.7" font-size="28.5" font-weight="normal" text-anchor="end" stroke-width="0.8" >36</text>
<line x1="141.3" y1="1115.4" x2="147.8" y2="1115.4" stroke="#000" stroke-width="2.6"/>
<text x="131" y="1160.4" font-size="28.5" font-weight="normal" text-anchor="end" stroke-width="0.8" >29</text>
<line x1="141.3" y1="1155.8" x2="147.8" y2="1155.8" stroke="#000" stroke-width="2.6"/>
<text x="131" y="1190.4" font-size="28.5" font-weight="normal" text-anchor="end" stroke-width="0.8" >24</text>
<line x1="141.3" y1="1178.4" x2="147.8" y2="1178.4" stroke="#000" stroke-width="2.6"/>
<text x="131" y="1243.8" font-size="28.5" font-weight="normal" text-anchor="end" stroke-width="0.8" >20</text>
<line x1="141.3" y1="1233.4" x2="147.8" y2="1233.4" stroke="#000" stroke-width="2.6"/>
<text x="131" y="1307" font-size="28.5" font-weight="normal" text-anchor="end" stroke-width="0.8" >14</text>
<line x1="141.3" y1="1299" x2="147.8" y2="1299" stroke="#000" stroke-width="2.6"/>
<text x="27" y="1149.2" font-size="26" font-weight="normal" text-anchor="start" stroke-width="0.45" textLength="64" lengthAdjust="spacingAndGlyphs" >M.W.</text>
<text x="36" y="1177.7" font-size="26" font-weight="normal" text-anchor="start" stroke-width="0.45" >kDa</text>
<defs>
<linearGradient id="bg" x1="0" y1="0" x2="0" y2="1">
<stop offset="0" stop-color="#e1e1e1"/><stop offset="0.2" stop-color="#e2e2e2"/><stop offset="0.4" stop-color="#e6e6e6"/><stop offset="1" stop-color="#ececec"/></linearGradient>
<linearGradient id="haze" x1="0" y1="0" x2="0" y2="1">
<stop offset="0" stop-color="#1a1a1a" stop-opacity="0.9"/><stop offset="1" stop-color="#1a1a1a" stop-opacity="0"/></linearGradient>
<filter id="b1" x="-50%" y="-50%" width="200%" height="200%"><feGaussianBlur stdDeviation="1.4"/></filter>
<filter id="b2" x="-50%" y="-50%" width="200%" height="200%"><feGaussianBlur stdDeviation="2.2"/></filter>
<filter id="b3" x="-50%" y="-50%" width="200%" height="200%"><feGaussianBlur stdDeviation="3.5"/></filter>
<filter id="b05" x="-50%" y="-50%" width="200%" height="200%"><feGaussianBlur stdDeviation="1.2"/></filter>
<filter id="noise" x="0" y="0" width="100%" height="100%"><feTurbulence type="fractalNoise" baseFrequency="0.45" numOctaves="2" seed="3"/><feColorMatrix type="matrix" values="0 0 0 0 1  0 0 0 0 1  0 0 0 0 1  0 0 0 -2.2 1.25"/></filter>
<filter id="noise2" x="0" y="0" width="100%" height="100%"><feTurbulence type="fractalNoise" baseFrequency="0.35" numOctaves="2" seed="11"/><feColorMatrix type="matrix" values="0 0 0 0 0  0 0 0 0 0  0 0 0 0 0  0 0 0 -2.5 1.5"/></filter>
<clipPath id="cb"><rect x="149.2" y="1048.2" width="273.3" height="298.3"/></clipPath>
<clipPath id="ca"><rect x="150.8" y="1361" width="270.7" height="38.7"/></clipPath>
</defs>
<g clip-path="url(#cb)">
<rect x="149.2" y="1048.2" width="273.3" height="298.3" fill="url(#bg)"/>
<g filter="url(#b3)">
<rect x="150" y="1110" width="272" height="16" fill="#000" opacity="0.18"/>
<rect x="150" y="1142" width="272" height="26" fill="url(#haze)" opacity="0.6"/>
</g>
<g filter="url(#b2)">
<rect x="148.4" y="1122.7" width="38.79999999999998" height="27.0" rx="7" fill="#141414"/>
<rect x="185.2" y="1118.5" width="36.20000000000002" height="32.5" rx="7" fill="#141414"/>
<rect x="220.7" y="1125.5" width="37.5" height="25.5" rx="7" fill="#141414"/>
<rect x="256.2" y="1125.5" width="34.80000000000001" height="25.5" rx="7" fill="#141414"/>
<rect x="286.7" y="1123.5" width="37.0" height="25.299999999999955" rx="7" fill="#141414"/>
<rect x="323" y="1123.5" width="34.39999999999998" height="22.59999999999991" rx="7" fill="#141414"/>
<rect x="356.7" y="1118.2" width="34.30000000000001" height="26.5" rx="7" fill="#141414"/>
<rect x="390.4" y="1115.5" width="32.10000000000002" height="26.5" rx="7" fill="#141414"/>
<path d="M200 1122 Q206 1112 214 1118 L216 1124 L200 1124Z" fill="#141414"/>
<rect x="153" y="1095.5" width="32" height="20" rx="8" fill="#161616"/>
<rect x="188.5" y="1095.0" width="31.5" height="21.0" rx="8" fill="#161616"/>
<rect x="225" y="1103.0" width="28" height="8.0" rx="4.5" fill="#1e1e1e"/>
<rect x="261.5" y="1104.5" width="23.5" height="6" rx="3.5" fill="#6a6a6a"/>
<rect x="294" y="1103.5" width="26" height="8" rx="4.5" fill="#262626"/>
<rect x="328" y="1103.0" width="26" height="6.0" rx="3.5" fill="#686868"/>
<rect x="361" y="1097.5" width="26.5" height="9.5" rx="5.25" fill="#222"/>
<rect x="394" y="1092.5" width="25" height="12.5" rx="6.75" fill="#1e1e1e"/>
<rect x="274" y="1104.5" width="10" height="6" rx="3" fill="#333"/>
<rect x="340" y="1103" width="11" height="6" rx="3" fill="#333"/>
<rect x="299" y="1105" width="16" height="6" rx="3" fill="#1a1a1a"/>
</g>
<g filter="url(#b1)">
<rect x="164.4" y="1227.2" width="19.099999999999994" height="3" rx="2" fill="#9a9a9a"/>
<rect x="190.3" y="1226.95" width="19.099999999999994" height="3.5" rx="2" fill="#888"/>
<rect x="227" y="1225.75" width="24.80000000000001" height="3.5" rx="2" fill="#999"/>
<rect x="225.8" y="1238.5" width="24.599999999999994" height="5" rx="2" fill="#383838"/>
<rect x="261.3" y="1225.55" width="26.0" height="3.5" rx="2" fill="#999"/>
<rect x="261.3" y="1238.5" width="26.0" height="5" rx="2" fill="#555"/>
<rect x="296.7" y="1226.95" width="20.900000000000034" height="3.5" rx="2" fill="#999"/>
<rect x="225.8" y="1259.25" width="27.299999999999983" height="5.5" rx="2" fill="#3a3a3a"/>
<rect x="262.7" y="1259.5" width="23.30000000000001" height="5" rx="2" fill="#606060"/>
<rect x="328.8" y="1236.3" width="26.5" height="7" rx="2" fill="#1a1a1a"/>
<rect x="328.8" y="1254.75" width="26.5" height="7.5" rx="2" fill="#1a1a1a"/>
</g>
<g filter="url(#b05)">
<ellipse cx="161.7" cy="1173.5" rx="2.4" ry="4.8" fill="#222"/>
<ellipse cx="179.9" cy="1167.9" rx="1.8" ry="3.4" fill="#444"/>
<ellipse cx="181.3" cy="1193" rx="3.2" ry="5" fill="#1a1a1a"/>
<ellipse cx="174.3" cy="1181.8" rx="2.2" ry="4" fill="#555"/>
<ellipse cx="160.3" cy="1201.3" rx="2.4" ry="4" fill="#222"/>
<ellipse cx="208.6" cy="1194.4" rx="2" ry="4" fill="#333"/>
<ellipse cx="228.7" cy="1191.6" rx="1.8" ry="3.4" fill="#444"/>
<ellipse cx="238.4" cy="1188.8" rx="1.7" ry="3" fill="#555"/>
<ellipse cx="222.5" cy="1211.1" rx="1.7" ry="3.4" fill="#444"/>
<ellipse cx="285.8" cy="1207" rx="1.8" ry="3" fill="#333"/>
<ellipse cx="153.5" cy="1231.4" rx="2" ry="3" fill="#444"/>
<ellipse cx="183" cy="1235.5" rx="2.8" ry="4.2" fill="#1a1a1a"/>
<ellipse cx="194.4" cy="1242.3" rx="2.6" ry="4.2" fill="#1a1a1a"/>
<ellipse cx="204" cy="1242.3" rx="2.6" ry="4.2" fill="#1a1a1a"/>
<ellipse cx="218.5" cy="1239.6" rx="2.6" ry="4" fill="#1a1a1a"/>
<ellipse cx="222.3" cy="1245" rx="2.6" ry="4" fill="#1a1a1a"/>
<ellipse cx="228.5" cy="1239.6" rx="2.4" ry="3.8" fill="#1a1a1a"/>
<ellipse cx="245.8" cy="1242.3" rx="2.4" ry="3.8" fill="#1a1a1a"/>
<ellipse cx="149.4" cy="1254.6" rx="1.6" ry="4" fill="#444"/>
<ellipse cx="164.4" cy="1253" rx="1.2" ry="4" fill="#999"/>
<ellipse cx="319" cy="1183.2" rx="1.7" ry="3.2" fill="#444"/>
<ellipse cx="324" cy="1197.2" rx="2.4" ry="4.4" fill="#1a1a1a"/>
<ellipse cx="393" cy="1166.5" rx="1.2" ry="2" fill="#666"/>
<ellipse cx="376.8" cy="1202.7" rx="2" ry="3.4" fill="#222"/>
<ellipse cx="285" cy="1208.3" rx="2" ry="3.4" fill="#222"/>
<ellipse cx="293.1" cy="1223.1" rx="2" ry="3.4" fill="#333"/>
<ellipse cx="299" cy="1237.6" rx="2.4" ry="3.8" fill="#1a1a1a"/>
<ellipse cx="314.9" cy="1239" rx="2.2" ry="3.8" fill="#222"/>
<ellipse cx="323.2" cy="1238.2" rx="1.8" ry="3" fill="#444"/>
<ellipse cx="344" cy="1232" rx="1.6" ry="2.4" fill="#666"/>
<ellipse cx="235.4" cy="1272.3" rx="2.2" ry="5.5" fill="#1a1a1a"/>
<ellipse cx="281.3" cy="1269.6" rx="1.6" ry="2.8" fill="#333"/>
<ellipse cx="187.6" cy="1272.3" rx="1.6" ry="2.8" fill="#555"/>
<ellipse cx="223.9" cy="1277.8" rx="2.2" ry="3.4" fill="#1a1a1a"/>
<ellipse cx="204" cy="1288.6" rx="3" ry="4.4" fill="#111"/>
<ellipse cx="222" cy="1290" rx="1.8" ry="3.4" fill="#444"/>
<ellipse cx="215.3" cy="1294" rx="1.8" ry="3.4" fill="#444"/>
<ellipse cx="174.3" cy="1297" rx="2.4" ry="3.8" fill="#222"/>
<ellipse cx="191.8" cy="1298.3" rx="2.8" ry="4.4" fill="#1a1a1a"/>
<ellipse cx="189.6" cy="1309.5" rx="2.8" ry="4.4" fill="#1a1a1a"/>
<ellipse cx="206.3" cy="1299.7" rx="2" ry="3.4" fill="#555"/>
<ellipse cx="202.2" cy="1308" rx="2" ry="3.4" fill="#666"/>
<ellipse cx="206.3" cy="1315" rx="2.2" ry="3.4" fill="#777"/>
<ellipse cx="203.6" cy="1321" rx="1.8" ry="2.8" fill="#888"/>
<ellipse cx="166" cy="1238.4" rx="1.4" ry="3.4" fill="#999"/>
<ellipse cx="334.4" cy="1317.8" rx="1.8" ry="2.8" fill="#333"/>
<ellipse cx="380.4" cy="1341.5" rx="1" ry="3.4" fill="#555"/>
<ellipse cx="301" cy="1287" rx="1" ry="4.4" fill="#999"/>
<ellipse cx="308" cy="1294" rx="1" ry="3.4" fill="#888"/>
<ellipse cx="419.4" cy="1301" rx="1.2" ry="3.4" fill="#aaa"/>
</g>
<rect x="149.2" y="1048.2" width="273.3" height="298.3" fill="#000" filter="url(#noise2)" opacity="0.07"/>
</g>
<g clip-path="url(#ca)">
<rect x="150.8" y="1361" width="270.7" height="38.7" fill="#a0a0a0"/>
<g filter="url(#b1)">
<rect x="151.8" y="1391.3" width="31.19999999999999" height="8.700000000000045" fill="#767676"/>
<rect x="151.8" y="1385.3" width="31.19999999999999" height="4.5" fill="#404040"/>
<rect x="151.8" y="1361" width="31.19999999999999" height="2" fill="#555"/>
<rect x="187" y="1391.3" width="32.400000000000006" height="8.700000000000045" fill="#767676"/>
<rect x="187" y="1385.3" width="32.400000000000006" height="4.5" fill="#404040"/>
<rect x="187" y="1361" width="32.400000000000006" height="2" fill="#555"/>
<rect x="223" y="1391.5" width="31.400000000000006" height="8.5" fill="#767676"/>
<rect x="223" y="1385.5" width="31.400000000000006" height="4.5" fill="#404040"/>
<rect x="223" y="1361" width="31.400000000000006" height="2" fill="#555"/>
<rect x="258" y="1391.5" width="32.60000000000002" height="8.5" fill="#767676"/>
<rect x="258" y="1385.5" width="32.60000000000002" height="4.5" fill="#404040"/>
<rect x="258" y="1361" width="32.60000000000002" height="2" fill="#555"/>
<rect x="294" y="1391.5" width="26.899999999999977" height="8.5" fill="#767676"/>
<rect x="294" y="1385.5" width="26.899999999999977" height="4.5" fill="#404040"/>
<rect x="294" y="1361" width="26.899999999999977" height="2" fill="#555"/>
<rect x="325" y="1388" width="30.30000000000001" height="12" fill="#767676"/>
<rect x="325" y="1382" width="30.30000000000001" height="4.5" fill="#404040"/>
<rect x="325" y="1361" width="30.30000000000001" height="2" fill="#555"/>
<rect x="359" y="1385" width="30.600000000000023" height="15" fill="#767676"/>
<rect x="359" y="1379" width="30.600000000000023" height="4.5" fill="#404040"/>
<rect x="359" y="1361" width="30.600000000000023" height="2" fill="#555"/>
<rect x="393" y="1379.6" width="27.5" height="20.40000000000009" fill="#767676"/>
<rect x="393" y="1373.6" width="27.5" height="4.5" fill="#404040"/>
<rect x="393" y="1361" width="27.5" height="2" fill="#555"/>
<rect x="183.0" y="1361" width="4" height="39" fill="#b8b8b8"/>
<rect x="218.7" y="1361" width="5" height="39" fill="#d0d0d0"/>
<rect x="253.7" y="1361" width="5" height="39" fill="#c8c8c8"/>
<rect x="290.0" y="1361" width="4" height="39" fill="#b0b0b0"/>
<rect x="320.4" y="1361" width="5" height="39" fill="#c0c0c0"/>
<rect x="354.1" y="1361" width="6" height="39" fill="#e0e0e0"/>
<rect x="389.3" y="1361" width="4" height="39" fill="#b0b0b0"/>
</g>
<rect x="150.8" y="1361" width="270.7" height="38.7" filter="url(#noise)" opacity="0.4"/>
</g>
<path d="M448 1099.2 H430" stroke="#000" stroke-width="2.2"/>
<path d="M423 1099.2 L436 1094.0 L433.5 1099.2 L436 1104.4 Z" fill="#000" stroke="#000" stroke-width="0.6" stroke-linejoin="round"/>
<path d="M448 1127 H430" stroke="#000" stroke-width="2.2"/>
<path d="M423 1127 L436 1121.8 L433.5 1127 L436 1132.2 Z" fill="#000" stroke="#000" stroke-width="0.6" stroke-linejoin="round"/>
<path d="M448 1262.2 H430" stroke="#000" stroke-width="2.2"/>
<path d="M423 1262.2 L436 1257.0 L433.5 1262.2 L436 1267.4 Z" fill="#000" stroke="#000" stroke-width="0.6" stroke-linejoin="round"/>
<path d="M448 1374.8 H430" stroke="#000" stroke-width="2.2"/>
<path d="M423 1374.8 L436 1369.6 L433.5 1374.8 L436 1380.0 Z" fill="#000" stroke="#000" stroke-width="0.6" stroke-linejoin="round"/>
<text x="452.5" y="1104.9" font-size="26" font-weight="normal" text-anchor="start" stroke-width="0.45" textLength="64" lengthAdjust="spacingAndGlyphs" >Mcl-1</text>
<text x="454" y="1138.6" font-size="26" font-weight="normal" text-anchor="start" stroke-width="0.45" >p32</text>
<text x="454" y="1273.4" font-size="26" font-weight="normal" text-anchor="start" stroke-width="0.45" >p17</text>
<text x="452" y="1385.2" font-size="28" font-weight="normal" text-anchor="start" stroke-width="0.45" >Actin</text>
<text x="40.3" y="1432" font-size="24" font-weight="normal" text-anchor="start" stroke-width="0.45" textLength="55" lengthAdjust="spacingAndGlyphs" >SL-0</text>
<line x1="10" y1="1438.6" x2="427" y2="1438.6" stroke="#000" stroke-width="2.8"/>
<text x="10.8" y="1466.3" font-size="24" font-weight="normal" text-anchor="start" stroke-width="0.45" textLength="108.5" lengthAdjust="spacingAndGlyphs" >Mcl-1 AS</text>
<line x1="10" y1="1471.8" x2="428" y2="1471.8" stroke="#000" stroke-width="2.8"/>
<text x="1.5" y="1498" font-size="24" font-weight="normal" text-anchor="start" stroke-width="0.45" textLength="125" lengthAdjust="spacingAndGlyphs" >Central PO</text>
<text x="18.8" y="1527" font-size="24" font-weight="normal" text-anchor="start" stroke-width="0.45" textLength="91" lengthAdjust="spacingAndGlyphs" >linkages</text>
<rect x="169.70000000000002" y="1421.1" width="7.2" height="3.4" fill="#000"/>
<rect x="169.70000000000002" y="1454.3" width="7.2" height="3.4" fill="#000"/>
<rect x="169.70000000000002" y="1499.8" width="7.2" height="3.4" fill="#000"/>
<path d="M197.8 1422.8 H212.2 M205 1415.8 V1429.8" stroke="#000" stroke-width="2.9"/>
<rect x="201.4" y="1454.3" width="7.2" height="3.4" fill="#000"/>
<rect x="201.4" y="1499.8" width="7.2" height="3.4" fill="#000"/>
<path d="M234.10000000000002 1422.8 H248.5 M241.3 1415.8 V1429.8" stroke="#000" stroke-width="2.9"/>
<text x="241.3" y="1465.2" font-size="26" font-weight="normal" text-anchor="middle" stroke-width="0.45" textLength="13.5" lengthAdjust="spacingAndGlyphs" >7</text>
<text x="241.3" y="1511.3" font-size="26" font-weight="normal" text-anchor="middle" stroke-width="0.45" textLength="13.5" lengthAdjust="spacingAndGlyphs" >9</text>
<path d="M265.5 1422.8 H279.9 M272.7 1415.8 V1429.8" stroke="#000" stroke-width="2.9"/>
<text x="272.7" y="1465.2" font-size="26" font-weight="normal" text-anchor="middle" stroke-width="0.45" textLength="13.5" lengthAdjust="spacingAndGlyphs" >7</text>
<text x="272.7" y="1511.3" font-size="26" font-weight="normal" text-anchor="middle" stroke-width="0.45" textLength="13.5" lengthAdjust="spacingAndGlyphs" >7</text>
<path d="M299.1 1422.8 H313.5 M306.3 1415.8 V1429.8" stroke="#000" stroke-width="2.9"/>
<text x="306.3" y="1465.2" font-size="26" font-weight="normal" text-anchor="middle" stroke-width="0.45" textLength="13.5" lengthAdjust="spacingAndGlyphs" >7</text>
<text x="306.3" y="1511.3" font-size="26" font-weight="normal" text-anchor="middle" stroke-width="0.45" textLength="13.5" lengthAdjust="spacingAndGlyphs" >5</text>
<path d="M332.0 1422.8 H346.4 M339.2 1415.8 V1429.8" stroke="#000" stroke-width="2.9"/>
<text x="339.2" y="1465.2" font-size="26" font-weight="normal" text-anchor="middle" stroke-width="0.45" textLength="13.5" lengthAdjust="spacingAndGlyphs" >8</text>
<text x="339.2" y="1511.3" font-size="26" font-weight="normal" text-anchor="middle" stroke-width="0.45" textLength="13.5" lengthAdjust="spacingAndGlyphs" >9</text>
<path d="M365.8 1422.8 H380.2 M373 1415.8 V1429.8" stroke="#000" stroke-width="2.9"/>
<text x="373" y="1465.2" font-size="26" font-weight="normal" text-anchor="middle" stroke-width="0.45" textLength="13.5" lengthAdjust="spacingAndGlyphs" >8</text>
<text x="373" y="1511.3" font-size="26" font-weight="normal" text-anchor="middle" stroke-width="0.45" textLength="13.5" lengthAdjust="spacingAndGlyphs" >7</text>
<path d="M400.8 1422.8 H415.2 M408 1415.8 V1429.8" stroke="#000" stroke-width="2.9"/>
<text x="408" y="1465.2" font-size="26" font-weight="normal" text-anchor="middle" stroke-width="0.45" textLength="13.5" lengthAdjust="spacingAndGlyphs" >8</text>
<text x="408" y="1511.3" font-size="26" font-weight="normal" text-anchor="middle" stroke-width="0.45" textLength="13.5" lengthAdjust="spacingAndGlyphs" >5</text>
</svg></body></html>
